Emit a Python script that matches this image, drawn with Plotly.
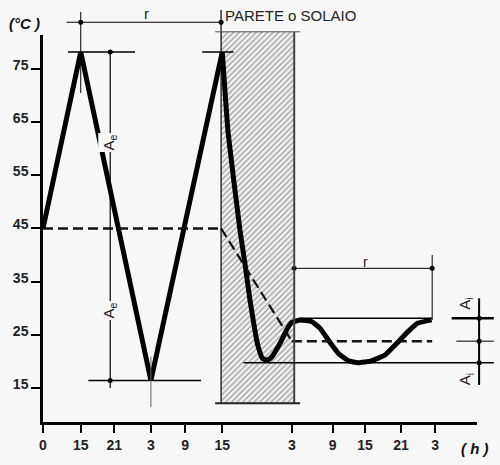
import plotly.graph_objects as go

W, H = 500, 465
BG = "#f7f7f7"

# assi principali: ore (scala schematica) e temperatura
X_RANGE = [8.6, 82.2]
Y_RANGE = [8.65, 81.4]
X_DOM = [43 / W, 477 / W]
Y_DOM = [1 - 421.7 / H, 1 - 35 / H]

x_tickvals = [8.6, 15, 20.7, 26.9, 32.7, 39.0, 50.8, 57.7, 63.2, 69.3, 75.1]
x_ticktext = ["0", "15", "21", "3", "9", "15", "3", "9", "15", "21", "3"]
y_tickvals = [15, 25, 35, 45, 55, 65, 75]

# temperatura esterna (andamento triangolare)
est_t = [8.6, 15.0, 26.9, 39.0]
est_v = [45, 78.2, 16.4, 78.2]

# attraversamento della parete e temperatura interna
int_t = [39.0, 40.0, 42.0, 42.85, 43.7, 44.25, 44.83, 45.3, 45.8, 46.4, 47.1, 47.7,
         48.3, 49.07, 49.9, 50.76, 52.2, 54.15, 55.6, 57.0, 58.7, 60.4, 62.05, 64.3,
         66.6, 68.6, 70.5, 72.2, 74.5]
int_v = [78.2, 62.9, 44.7, 38.4, 31.5, 27.75, 24.0, 22.0, 20.6, 20.2, 20.5, 21.3,
         22.4, 24.0, 25.9, 27.3, 27.8, 27.5, 26.2, 24.0, 21.5, 20.1, 19.75, 20.1,
         21.2, 23.4, 25.6, 27.2, 27.8]

MEDIA_EST = 45
MEDIA_INT = 23.8
PARETE_T = [38.8, 51.2]
PARETE_V = [12.1, 82.0]
PICCO_EST, MIN_EST = 78.2, 16.4
PICCO_INT, MIN_INT = 28.1, 19.75


def overlay_range(rng, dom):
    k = (rng[1] - rng[0]) / (dom[1] - dom[0])
    return [rng[0] - dom[0] * k, rng[0] + (1 - dom[0]) * k]


fig = go.Figure()

# parete tratteggiata
fig.add_trace(go.Scatter(
    x=[PARETE_T[0], PARETE_T[1], PARETE_T[1], PARETE_T[0], PARETE_T[0]],
    y=[PARETE_V[0], PARETE_V[0], PARETE_V[1], PARETE_V[1], PARETE_V[0]],
    mode="lines", line=dict(width=0), fill="toself", fillcolor="#efefef",
    fillpattern=dict(shape="/", fgcolor="#8c8c8c", bgcolor="#efefef", size=4, solidity=0.25),
    xaxis="x2", yaxis="y2", hoverinfo="skip",
))

# asse principale (solo per assi e tick)
fig.add_trace(go.Scatter(x=[X_RANGE[0]], y=[Y_RANGE[0]], mode="markers",
                         marker=dict(opacity=0), hoverinfo="skip"))


def seg(x0, y0, x1, y1, w=1.2, color="black", dash="solid"):
    fig.add_shape(type="line", x0=x0, y0=y0, x1=x1, y1=y1, xref="x2", yref="y2",
                  line=dict(width=w, color=color, dash=dash))


DASH = "10px,5px"
# medie
seg(X_RANGE[0], MEDIA_EST, PARETE_T[0], MEDIA_EST, 2.5, "#111", DASH)
seg(PARETE_T[0], MEDIA_EST, 50.8, MEDIA_INT, 2.2, "#111", DASH)
seg(50.8, MEDIA_INT, 74.6, MEDIA_INT, 2.5, "#111", DASH)

# quote a sinistra
seg(15, 70.5, 15, 85.75, 1)
seg(12.6, 83.8, PARETE_T[0], 83.8, 1.2)
seg(12.85, PICCO_EST, 24.2, PICCO_EST, 1.5)
seg(35.6, PICCO_EST, 40.9, PICCO_EST, 1.5)
seg(20.0, PICCO_EST, 20.0, 15.0, 1.2)
seg(16.3, MIN_EST, 35.4, MIN_EST, 1.5)
seg(26.9, 11.4, 26.9, 20.9, 1, "#666")

# bordi parete
seg(PARETE_T[0], PARETE_V[0], PARETE_T[0], 86.1, 1.2)
seg(PARETE_T[1], PARETE_V[0], PARETE_T[1], PARETE_V[1], 2, "#444")
seg(37.8, PARETE_V[1], 52.2, PARETE_V[1], 1, "#555")
seg(37.8, PARETE_V[0], 52.2, PARETE_V[0], 2, "#222")

# quote a destra
seg(PARETE_T[1], 37.5, 74.6, 37.5, 1)
seg(74.6, 27.8, 74.6, 40.0, 1)
seg(52.2, PICCO_INT, 74.6, PICCO_INT, 1.5)
seg(77.9, PICCO_INT, 85.05, PICCO_INT, 2.5)
seg(78.7, MEDIA_INT, 85.05, MEDIA_INT, 1)
seg(42.6, MIN_INT, 85.05, MIN_INT, 1.5)
seg(82.56, 15.55, 82.56, 31.85, 2)

# curve
fig.add_trace(go.Scatter(x=est_t, y=est_v, mode="lines", line=dict(color="black", width=5),
                         xaxis="x2", yaxis="y2", hoverinfo="skip"))
fig.add_trace(go.Scatter(x=int_t, y=int_v, mode="lines",
                         line=dict(color="black", width=5, shape="spline", smoothing=0.35),
                         xaxis="x2", yaxis="y2", hoverinfo="skip"))

# punti di quota
fig.add_trace(go.Scatter(
    x=[15, PARETE_T[0], 20.0, 20.0, PARETE_T[1], 74.6, 82.56, 82.56, 82.56],
    y=[83.8, 83.8, PICCO_EST, MIN_EST, 37.5, 37.5, PICCO_INT, MEDIA_INT, MIN_INT],
    mode="markers", marker=dict(color="black", size=5), xaxis="x2", yaxis="y2", hoverinfo="skip",
))

FONT = "Liberation Sans, Arial, sans-serif"


def testo(x, y, s, size=14, angle=0, bg=None, xanchor="center", color="#222"):
    fig.add_annotation(x=x, y=y, xref="x2", yref="y2", text=s, showarrow=False,
                       textangle=angle, xanchor=xanchor, bgcolor=bg,
                       font=dict(family=FONT, size=size, color=color))


testo(26.2, 85.5, "r", 15)
testo(63.3, 38.7, "r", 14)
testo(39.2, 85.1, "PARETE o SOLAIO", 15, xanchor="left")
testo(19.9, 61.1, "A<sub>e</sub>", 15, -90, BG)
testo(19.9, 29.5, "A<sub>e</sub>", 15, -90, BG)
testo(80.3, 30.8, "A<sub>i</sub>", 15, -90)
testo(80.3, 16.6, "A<sub>i</sub>", 15, -90)
testo(5.4, 83.6, "<b><i>(°C )</i></b>", 15, color="#111")
testo(81.9, 3.65, "<b><i>( h )</i></b>", 15, color="#111")

fig.update_layout(
    width=W, height=H, template="none", showlegend=False,
    margin=dict(l=0, r=0, t=0, b=0),
    paper_bgcolor=BG, plot_bgcolor="rgba(0,0,0,0)",
    xaxis=dict(domain=X_DOM, range=X_RANGE, anchor="y", showline=True, linewidth=3,
               linecolor="black", ticks="outside", ticklen=8, tickwidth=2, tickcolor="black",
               tickvals=x_tickvals, ticktext=x_ticktext, showgrid=False, zeroline=False,
               automargin=False, tickfont=dict(family=FONT, size=14, color="#222", weight="bold")),
    yaxis=dict(domain=Y_DOM, range=Y_RANGE, anchor="x", showline=True, linewidth=2.5,
               linecolor="black", ticks="outside", ticklen=9, tickwidth=2, tickcolor="black",
               tickvals=y_tickvals, showgrid=False, zeroline=False, automargin=False,
               ticklabelshift=-4,
               tickfont=dict(family=FONT, size=14, color="#222", weight="bold")),
    xaxis2=dict(domain=[0, 1], range=overlay_range(X_RANGE, X_DOM), anchor="y2", visible=False),
    yaxis2=dict(domain=[0, 1], range=overlay_range(Y_RANGE, Y_DOM), anchor="x2", visible=False),
)

# la pagina ha un margine di 8px di default: lo togliamo
fig.write_html("out.html", config={"displayModeBar": False},
               post_script="document.body.style.margin='0';")
